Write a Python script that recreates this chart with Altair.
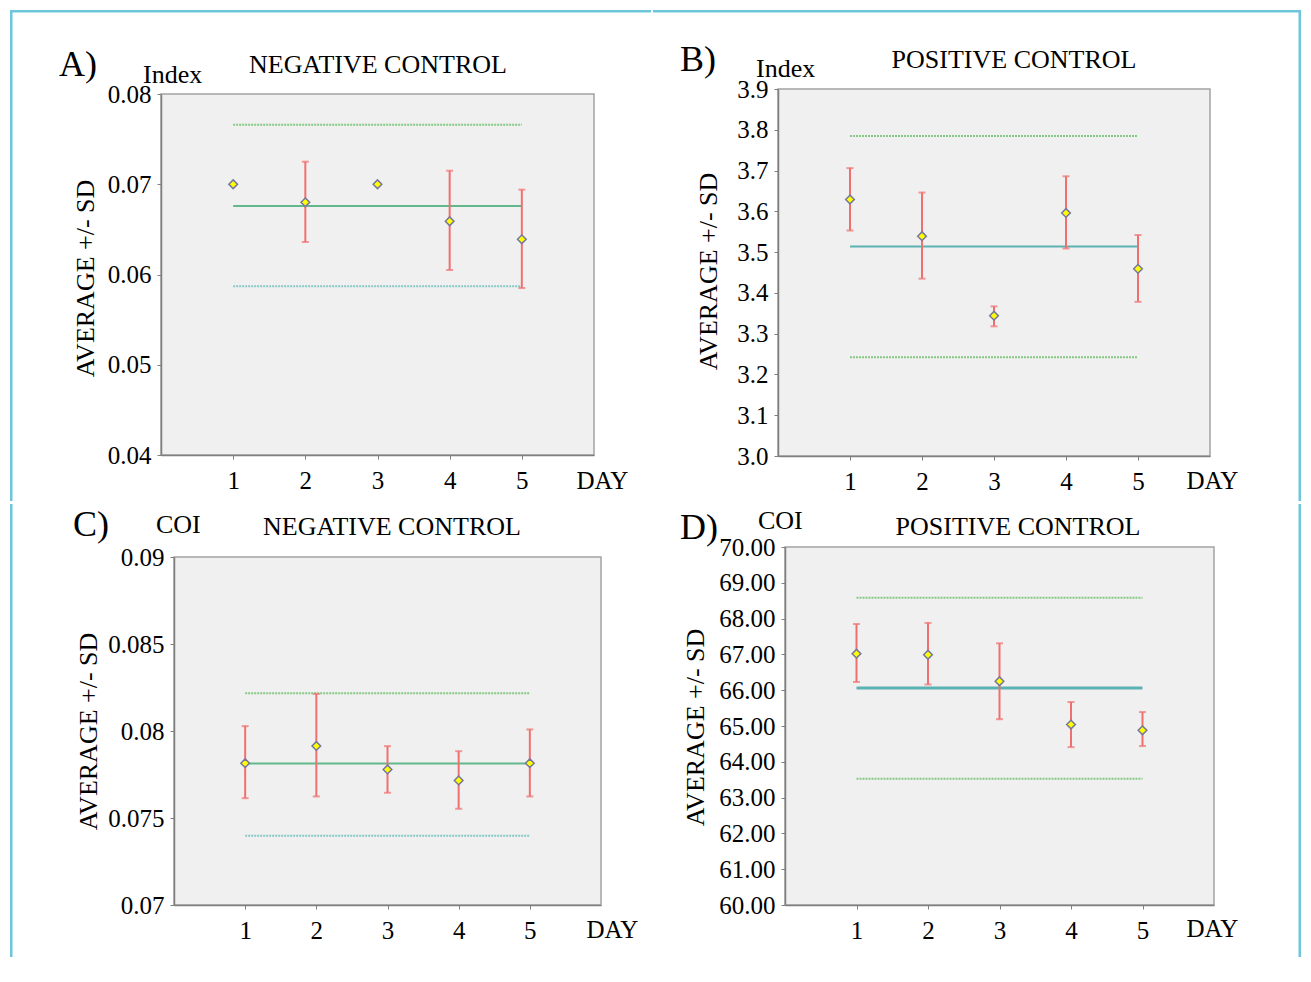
import altair as alt
import pandas as pd

# ---------------- data ----------------
DAYS = [1, 2, 3, 4, 5]
DAY_TICKS = [1, 2, 3, 4, 5]

# Panel A  (Index, negative control)
A_MEAN = [0.0700, 0.0680, 0.0700, 0.0659, 0.0639]
A_HI = [0.0700, 0.0725, 0.0700, 0.0715, 0.0694]
A_LO = [0.0700, 0.0636, 0.0700, 0.0605, 0.0585]
A_LIMITS = [0.0766, 0.0676, 0.0587]          # upper, mean, lower
A_YTICKS = [0.04, 0.05, 0.06, 0.07, 0.08]

# Panel B  (Index, positive control)
B_MEAN = [3.629, 3.539, 3.344, 3.596, 3.459]
B_HI = [3.706, 3.646, 3.367, 3.686, 3.542]
B_LO = [3.553, 3.435, 3.318, 3.509, 3.378]
B_LIMITS = [3.785, 3.514, 3.242]
B_YTICKS = [3.0, 3.1, 3.2, 3.3, 3.4, 3.5, 3.6, 3.7, 3.8, 3.9]

# Panel C  (COI, negative control)
C_MEAN = [0.07815, 0.07914, 0.07779, 0.07716, 0.07815]
C_HI = [0.08028, 0.08213, 0.07913, 0.07884, 0.08009]
C_LO = [0.07614, 0.07624, 0.07645, 0.07553, 0.07624]
C_LIMITS = [0.08217, 0.07813, 0.07398]
C_YTICKS = [0.07, 0.075, 0.08, 0.085, 0.09]

# Panel D  (COI, positive control)
D_MEAN = [67.02, 66.99, 66.25, 65.04, 64.88]
D_HI = [67.85, 67.88, 67.31, 65.67, 65.39]
D_LO = [66.23, 66.16, 65.19, 64.41, 64.44]
D_LIMITS = [68.58, 66.06, 63.53]
D_YTICKS = [60, 61, 62, 63, 64, 65, 66, 67, 68, 69, 70]

PANEL_LABELS = ["A)", "B)", "C)", "D)"]
UNIT_LABELS = ["Index", "Index", "COI", "COI"]
PANEL_TITLES = ["NEGATIVE CONTROL", "POSITIVE CONTROL", "NEGATIVE CONTROL", "POSITIVE CONTROL"]
Y_TITLE = "AVERAGE +/- SD"
X_TITLE = "DAY"

# ---------------- styling ----------------
FONT = "Liberation Serif"
BORDER = "#6EC6DA"
ERR = "#F07070"
GREEN_DOT = "#86C986"
TEAL_DOT = "#86C8C8"
GREEN_LINE = "#62B88C"
TEAL_LINE = "#5AB2B2"


def panel(idx, mean, hi, lo, limits, ydom, yticks, yfmt, geo, ax, txt, line_styles, border):
    L, W, R, T, H, B = geo
    df = pd.DataFrame({"day": DAYS, "val": mean, "hi": hi, "lo": lo})
    xs = alt.Scale(domain=[0, 6], nice=False, zero=False)
    ys = alt.Scale(domain=ydom, nice=False, zero=False)
    xax = alt.Axis(values=DAY_TICKS, format="d", title=X_TITLE, titleX=ax["dx"], titleY=ax["dy"],
                   titleAlign="left", titleBaseline="alphabetic", titleAngle=0, titleFontSize=25)
    yax = alt.Axis(values=yticks, format=yfmt, title=Y_TITLE, titleX=ax["tx"], titleY=ax["ty"],
                   titleAngle=270, titleAlign="center", titleBaseline="alphabetic", titleFontSize=26)

    def X(f):
        return alt.X(f, type="quantitative", scale=xs, axis=xax)

    def Y(f):
        return alt.Y(f, type="quantitative", scale=ys, axis=yax)

    one = alt.Data(values=[{"a": 0}])
    layers = []
    # invisible anchor that fixes the size of this cell
    layers.append(alt.Chart(one).mark_rect(opacity=0).encode(
        x=alt.value(-L), x2=alt.value(W + R), y=alt.value(-T), y2=alt.value(H + B)))
    # page frame pieces
    for side in border:
        if side == "top":
            enc = dict(x=alt.value(-L), x2=alt.value(W + R), y=alt.value(-T), y2=alt.value(-T + 2.5))
        elif side == "left":
            enc = dict(x=alt.value(-L), x2=alt.value(-L + 2.5), y=alt.value(-T), y2=alt.value(H + B))
        else:
            enc = dict(x=alt.value(W + R - 2.5), x2=alt.value(W + R), y=alt.value(-T), y2=alt.value(H + B))
        layers.append(alt.Chart(one).mark_rect(color=BORDER).encode(**enc))
    # control limits and mean
    for val, (color, width, dash) in zip(limits, line_styles):
        ldf = pd.DataFrame({"x1": [DAYS[0]], "x2": [DAYS[-1]], "val": [val]})
        kw = dict(color=color, strokeWidth=width)
        if dash:
            kw["strokeDash"] = dash
        layers.append(alt.Chart(ldf).mark_rule(**kw).encode(x=X("x1"), x2="x2", y=Y("val")))
    # error bars
    layers.append(alt.Chart(df).mark_rule(color=ERR, strokeWidth=2).encode(x=X("day"), y=Y("lo"), y2="hi"))
    for f in ["hi", "lo"]:
        layers.append(alt.Chart(df).mark_tick(color=ERR, orient="horizontal", size=7, thickness=2).encode(
            x=X("day"), y=Y(f)))
    # points
    layers.append(alt.Chart(df).mark_point(shape="diamond", filled=True, fill="#FFFF00", stroke="#77779A",
                                           strokeWidth=1.5, size=75, opacity=1).encode(x=X("day"), y=Y("val")))
    # texts
    for text, (x, y, size, align) in zip([PANEL_LABELS[idx], UNIT_LABELS[idx], PANEL_TITLES[idx]], txt):
        layers.append(alt.Chart(alt.Data(values=[{"t": text}])).mark_text(
            font=FONT, fontSize=size, align=align, baseline="alphabetic", color="black").encode(
            x=alt.value(x), y=alt.value(y), text="t:N"))
    return alt.layer(*layers).properties(width=W, height=H)


def spacer():
    return alt.Chart(alt.Data(values=[{"a": 0}])).mark_rect(opacity=0).encode(
        x=alt.value(0), x2=alt.value(1), y=alt.value(0), y2=alt.value(1)
    ).properties(width=1, height=1,
                 view=alt.ViewBackground(fill="transparent", stroke="transparent", strokeWidth=0))


def row(left, right):
    return alt.concat(spacer(), spacer(), spacer(), spacer(), left, right,
                      columns=3, spacing=0, align="none", bounds="full")


green_dot = (GREEN_DOT, 2, [2, 1])
teal_dot = (TEAL_DOT, 2, [2, 1])

pA = panel(0, A_MEAN, A_HI, A_LO, A_LIMITS, [0.04, 0.08], A_YTICKS, ".2f",
           (151, 433, 57, 84, 361, 46),
           dict(dx=415, dy=33, tx=-68, ty=184),
           [(-102, -18, 36, "left"), (-18, -11, 26, "left"), (217, -21, 26, "center")],
           [green_dot, (GREEN_LINE, 2, None), teal_dot], ["top", "left"])
pB = panel(1, B_MEAN, B_HI, B_LO, B_LIMITS, [3.0, 3.9], B_YTICKS, ".1f",
           (125, 432, 91, 79, 367, 45),
           dict(dx=408, dy=32, tx=-62, ty=182),
           [(-98, -18, 36, "left"), (-22, -12, 26, "left"), (236, -21, 26, "center")],
           [green_dot, (TEAL_LINE, 2, None), green_dot], ["top", "right"])
pC = panel(2, C_MEAN, C_HI, C_LO, C_LIMITS, [0.07, 0.09], C_YTICKS, ".3~f",
           (164, 427, 50, 53, 348, 52),
           dict(dx=412, dy=32, tx=-78, ty=174),
           [(-101, -21, 36, "left"), (-18, -24, 26, "left"), (218, -22, 26, "center")],
           [green_dot, (GREEN_LINE, 2, None), teal_dot], ["left"])
pD = panel(3, D_MEAN, D_HI, D_LO, D_LIMITS, [60, 70], D_YTICKS, ".2f",
           (132, 429, 87, 43, 358, 52),
           dict(dx=401, dy=31, tx=-82, ty=180),
           [(-105, -8, 36, "left"), (-27, -18, 26, "left"), (233, -12, 26, "center")],
           [green_dot, (TEAL_LINE, 3, None), green_dot], ["right"])

chart = alt.concat(
    row(pA, pB), row(pC, pD), columns=1, spacing=0, align="none", bounds="full"
).properties(
    padding=0
).configure_view(
    fill="#F0F0F0", stroke="#A3A3A3", strokeWidth=1.5
).configure_axis(
    labelFont=FONT, labelFontSize=25, labelColor="black", titleFont=FONT, titleColor="black",
    titleFontWeight="normal", domainColor="#7F7F7F", domainWidth=1.5, tickColor="#7F7F7F",
    tickSize=4, tickWidth=1, grid=False, labelFlush=False, labelOverlap=False
).configure_axisX(labelPadding=9).configure_axisY(labelPadding=6)

chart.save("out.html", embed_options={"renderer": "svg", "actions": False})
